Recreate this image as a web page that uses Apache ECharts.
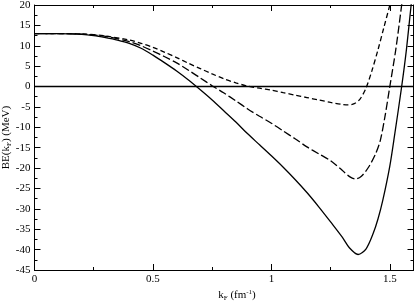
<!DOCTYPE html>
<html><head><meta charset="utf-8">
<script src="https://cdn.jsdelivr.net/npm/echarts@6/dist/echarts.min.js"></script>
<style>html,body{margin:0;padding:0;background:#fff}#c{width:415px;height:302px}</style>
</head><body><div id="c"></div><script>
// Data
const solidX = [0, 0.1, 0.2, 0.25, 0.3, 0.35, 0.4, 0.45, 0.5, 0.55, 0.6, 0.65, 0.7, 0.75, 0.8, 0.85, 0.9, 0.95, 1.0, 1.05, 1.1, 1.15, 1.2, 1.25, 1.3, 1.33, 1.366, 1.4, 1.43, 1.45, 1.47, 1.5, 1.52, 1.55, 1.57, 1.59, 1.6];
const solidY = [13.0, 13.0, 12.8, 12.5, 12.0, 11.4, 10.6, 9.4, 7.7, 5.8, 3.8, 1.6, -0.8, -3.3, -6.0, -8.7, -11.6, -14.3, -17.0, -19.8, -22.8, -26.0, -29.5, -33.2, -37.0, -39.6, -41.2, -39.8, -36.0, -32.5, -28.0, -19.5, -12.0, 0.0, 9.0, 20.0, 25.0];
const longDashX = [0, 0.1, 0.2, 0.3, 0.4, 0.45, 0.5, 0.55, 0.6, 0.65, 0.7, 0.75, 0.8, 0.85, 0.9, 0.95, 1.0, 1.05, 1.1, 1.15, 1.2, 1.25, 1.3, 1.33, 1.355, 1.38, 1.41, 1.44, 1.46, 1.48, 1.5, 1.525, 1.55, 1.56];
const longDashY = [13.0, 13.0, 12.85, 12.3, 11.0, 10.0, 8.7, 7.3, 5.8, 4.0, 2.1, 0.2, -1.6, -3.5, -5.5, -7.3, -9.0, -10.9, -12.8, -14.8, -16.5, -18.2, -20.6, -22.1, -22.7, -22.0, -19.8, -16.5, -13.2, -7.2, 0.0, 9.0, 20.0, 25.0];
const shortDashX = [0, 0.1, 0.2, 0.3, 0.4, 0.45, 0.5, 0.55, 0.6, 0.65, 0.7, 0.75, 0.8, 0.85, 0.9, 0.95, 1.0, 1.05, 1.1, 1.15, 1.2, 1.25, 1.3, 1.325, 1.35, 1.375, 1.4, 1.425, 1.45, 1.475, 1.5, 1.51];
const shortDashY = [13.0, 13.0, 12.9, 12.4, 11.4, 10.6, 9.6, 8.4, 7.1, 5.7, 4.4, 3.1, 1.9, 0.9, 0.1, -0.4, -0.9, -1.5, -2.1, -2.7, -3.3, -3.9, -4.4, -4.5, -4.2, -3.0, -0.3, 4.0, 9.0, 14.5, 20.0, 22.5];
const xTickLabels = ['0', '0.5', '1', '1.5'];
const xRange = [0, 1.6];
const yRange = [-45, 20];

const FONT = 'Liberation Serif';
const pairs = (xs, ys) => xs.map((x, i) => [x, ys[i]]);

function xAxis(pos, interval, len, withLabels, withLine) {
  return {
    type: 'value', position: pos, min: xRange[0], max: xRange[1], interval: interval,
    splitLine: { show: false },
    axisLine: { show: withLine, onZero: false, lineStyle: { color: '#000', width: 1 } },
    axisTick: { show: true, inside: true, length: len, lineStyle: { color: '#000', width: 1 } },
    axisLabel: {
      show: withLabels, color: '#000', fontFamily: FONT, fontSize: 11, margin: 4,
      showMaxLabel: false,
      formatter: v => { const s = String(+v.toFixed(2)); return xTickLabels.includes(s) ? s : ''; }
    }
  };
}
function yAxis(pos, interval, len, withLabels, withLine) {
  return {
    type: 'value', position: pos, min: yRange[0], max: yRange[1], interval: interval,
    splitLine: { show: false },
    axisLine: { show: withLine, onZero: false, lineStyle: { color: '#000', width: 1 } },
    axisTick: { show: true, inside: true, length: len, lineStyle: { color: '#000', width: 1 } },
    axisLabel: { show: withLabels, color: '#000', fontFamily: FONT, fontSize: 11, margin: 4 }
  };
}

const xs = [xAxis('bottom', 0.5, 6, true, true), xAxis('bottom', 0.25, 3, false, false),
            xAxis('top', 0.5, 6, false, true), xAxis('top', 0.25, 3, false, false)];
xs[0].name = '{n|k}{s|F}{n| (fm}{p|-1}{n|)}';
xs[0].nameLocation = 'middle';
xs[0].nameGap = 19;
xs[0].nameMoveOverlap = false;
xs[0].nameTextStyle = {
  color: '#000', fontFamily: FONT, fontSize: 11, padding: [0, 0, 0, 26],
  rich: {
    n: { fontFamily: FONT, fontSize: 11, color: '#000' },
    s: { fontFamily: FONT, fontSize: 7, color: '#000', padding: [6, 0, 0, 0] },
    p: { fontFamily: FONT, fontSize: 7, color: '#000', padding: [0, 0, 6, 0] }
  }
};
const ys = [yAxis('left', 5, 6, true, true), yAxis('left', 2.5, 3, false, false),
            yAxis('right', 5, 6, false, true), yAxis('right', 2.5, 3, false, false)];
ys[0].name = '{n|BE(k}{s|F}{n|) (MeV)}';
ys[0].nameLocation = 'middle';
ys[0].nameGap = 22;
ys[0].nameRotate = 90;
ys[0].nameMoveOverlap = false;
ys[0].nameTextStyle = {
  color: '#000', fontFamily: FONT, fontSize: 11, padding: [0, 0, 0, 0],
  rich: {
    n: { fontFamily: FONT, fontSize: 11, color: '#000' },
    s: { fontFamily: FONT, fontSize: 7, color: '#000', padding: [6, 0, 0, 0] }
  }
};

const lineBase = { type: 'line', showSymbol: false, smooth: 0.3, xAxisIndex: 0, yAxisIndex: 0, clip: true, silent: true };

const chart = echarts.init(document.getElementById('c'), null, { renderer: 'canvas' });
chart.setOption({
  animation: false,
  backgroundColor: '#fff',
  grid: { left: 34.5, right: 1.5, top: 5, bottom: 32, containLabel: false, outerBoundsMode: 'none' },
  xAxis: xs,
  yAxis: ys,
  series: [
    Object.assign({}, lineBase, {
      data: pairs(solidX, solidY),
      lineStyle: { color: '#000', width: 1.3, type: 'solid' },
      markLine: {
        silent: true, symbol: 'none', label: { show: false },
        lineStyle: { color: '#000', width: 1.3, type: 'solid' },
        data: [{ yAxis: 0 }]
      }
    }),
    Object.assign({}, lineBase, {
      data: pairs(longDashX, longDashY),
      lineStyle: { color: '#000', width: 1.3, type: [8, 3] }
    }),
    Object.assign({}, lineBase, {
      data: pairs(shortDashX, shortDashY),
      lineStyle: { color: '#000', width: 1.3, type: [5, 3] }
    })
  ]
});
</script></body></html>
